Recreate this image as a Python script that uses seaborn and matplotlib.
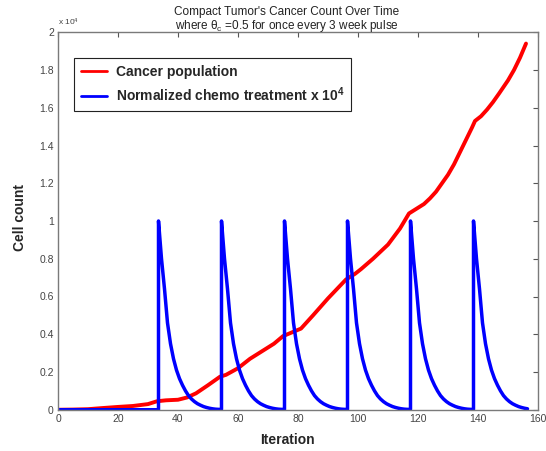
import numpy as np
import pandas as pd
import matplotlib
matplotlib.use("Agg")
import matplotlib.pyplot as plt
import seaborn as sns

# ---- data -------------------------------------------------------------
# Cancer cell population over the simulation
cancer_iter = [0, 5, 10, 14, 20, 25, 30, 33, 36, 40, 43, 46, 50, 54, 56, 60,
               64, 68, 72, 75, 78, 81, 85, 90, 93, 96, 99, 101, 105, 110, 114,
               117, 120, 122, 124, 126, 128, 130, 132, 134, 136, 138, 139,
               141, 143, 145, 147, 150, 152, 154, 156]
cancer_count = [0, 10, 30, 80, 150, 200, 300, 450, 500, 530, 650, 870, 1300,
                1750, 1850, 2200, 2700, 3100, 3500, 3900, 4100, 4300, 5000,
                5900, 6400, 6900, 7200, 7450, 8000, 8750, 9600, 10400, 10700,
                10900, 11200, 11550, 12000, 12450, 13000, 13650, 14300, 14950,
                15300, 15550, 15900, 16300, 16750, 17450, 18000, 18650, 19400]

# Chemo pulses: start iteration of each dose and the normalized decay
# of the drug level (one value per iteration after the dose)
pulse_starts = [33.5, 54.5, 75.5, 96.5, 117.5, 138.5]
pulse_decay = [1.0, 0.80, 0.64, 0.46, 0.35, 0.27, 0.21, 0.165, 0.13, 0.10,
               0.075, 0.057, 0.043, 0.032, 0.024, 0.017, 0.012, 0.008, 0.005,
               0.003, 0.002]
last_iter = 156.5
chemo_scale = 1e4

x_ticks = [0, 20, 40, 60, 80, 100, 120, 140, 160]
y_ticks = [0, 2000, 4000, 6000, 8000, 10000, 12000, 14000, 16000, 18000, 20000]
y_tick_labels = ["0", "0.2", "0.4", "0.6", "0.8", "1", "1.2", "1.4", "1.6",
                 "1.8", "2"]

# ---- assemble chemo trace (vertical jump at each dose) -----------------
chemo_x, chemo_y = [0.0], [0.0]
for start in pulse_starts:
    chemo_x.append(start)
    chemo_y.append(chemo_y[-1])
    for k, v in enumerate(pulse_decay):
        t = start + k
        if t > last_iter:
            break
        chemo_x.append(t)
        chemo_y.append(v)

cancer_df = pd.DataFrame({"Iteration": cancer_iter, "Cells": cancer_count})
chemo_df = pd.DataFrame({"Iteration": chemo_x,
                         "Cells": np.array(chemo_y) * chemo_scale})

# ---- style ------------------------------------------------------------
sns.set_style("white")
plt.rcParams["font.family"] = ["Liberation Sans", "DejaVu Sans"]
plt.rcParams["mathtext.fontset"] = "custom"
plt.rcParams["mathtext.rm"] = "Liberation Sans"
plt.rcParams["mathtext.it"] = "Liberation Sans:italic"
plt.rcParams["mathtext.bf"] = "Liberation Sans:bold"

W, H = 546, 451
fig = plt.figure(figsize=(W / 100, H / 100), dpi=100)
ax_l, ax_r, ax_t, ax_b = 58, 538, 32.25, 409.75
ax = fig.add_axes([ax_l / W, 1 - ax_b / H, (ax_r - ax_l) / W, (ax_b - ax_t) / H])

red = "#ff0000"
blue = "#0000ff"
sns.lineplot(data=cancer_df, x="Iteration", y="Cells", ax=ax, color=red,
             lw=2.8, sort=False, estimator=None, legend=False)
sns.lineplot(data=chemo_df, x="Iteration", y="Cells", ax=ax, color=blue,
             lw=2.5, sort=False, estimator=None, legend=False)

ax.set_xlim(0, 160)
ax.set_ylim(0, 20000)
ax.set_xticks(x_ticks)
ax.set_xticklabels([str(t) for t in x_ticks])
ax.set_yticks(y_ticks)
ax.set_yticklabels(y_tick_labels)
ax.set_xlabel("")
ax.set_ylabel("")

spine_col = "#7a7a7a"
for s in ax.spines.values():
    s.set_color(spine_col)
    s.set_linewidth(1.0)
ax.tick_params(direction="in", length=3.5, width=0.8, color="#555555",
               labelsize=7.5, labelcolor="#444444", top=True, right=True,
               pad=3)

# exponent marker above the y axis
ax.text(0.0, 1.012, r"x 10$^4$", transform=ax.transAxes, ha="left",
        va="bottom", fontsize=6, color="#444444")

# titles and axis labels
cx = 287 / W
fig.text(cx, 1 - 12.5 / H, "Compact Tumor's Cancer Count Over Time",
         ha="center", va="center", fontsize=8.5, color="#222222")
fig.text(cx, 1 - 25.5 / H,
         r"where $\mathrm{\theta_c}$ =0.5 for once every 3 week pulse",
         ha="center", va="center", fontsize=8.5, color="#222222")
fig.text(cx, 1 - 440 / H, "Iteration", ha="center", va="center",
         fontsize=10, fontweight="bold")
fig.text(20 / W, 1 - 217 / H, "Cell count", ha="center", va="center",
         rotation=90, fontsize=10, fontweight="bold")

# legend
leg = ax.legend(ax.lines[:2],
                ["Cancer population",
                 r"Normalized chemo treatment x 10$^\mathbf{4}$"],
                loc="upper left",
                bbox_to_anchor=((74 - ax_l) / (ax_r - ax_l),
                                (ax_b - 58.3) / (ax_b - ax_t)),
                borderaxespad=0, fancybox=False, framealpha=1,
                edgecolor="#222222", handlelength=1.85, handletextpad=0.65,
                borderpad=0.5, labelspacing=0.45,
                prop={"weight": "bold", "size": 10})
leg.get_frame().set_linewidth(0.8)
for h in leg.get_lines():
    h.set_linewidth(2.0)

fig.savefig("out.png", dpi=100)
